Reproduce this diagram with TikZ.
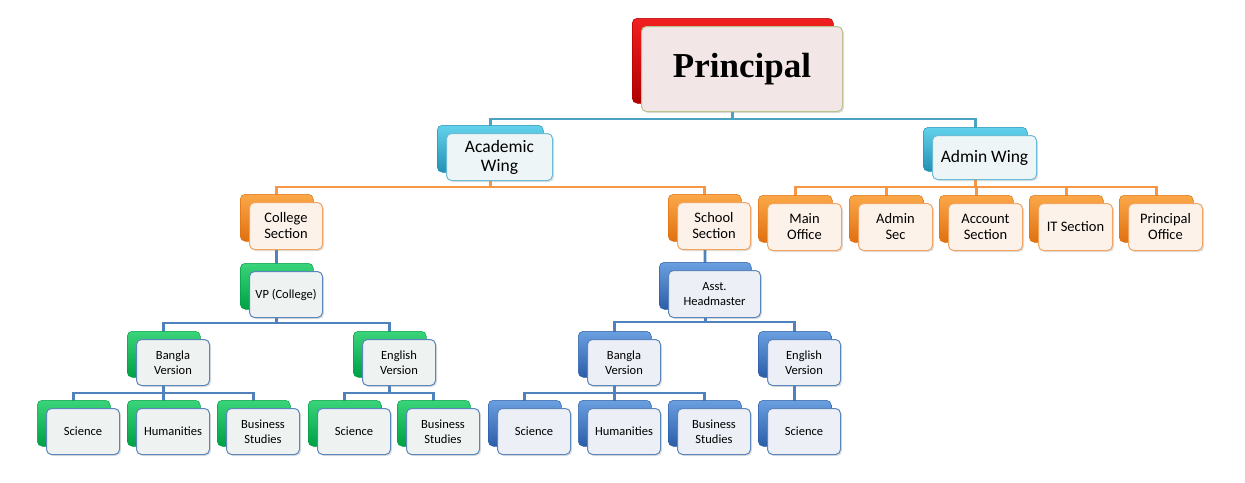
\documentclass[tikz,border=0pt]{standalone}
\usepackage{fontspec}
\setmainfont{Carlito}
\newfontfamily\prinfont{Liberation Serif}
\usetikzlibrary{backgrounds,shadows}
\definecolor{redT}{HTML}{F22020}
\definecolor{redB}{HTML}{B00000}
\definecolor{tealT}{HTML}{62D2EC}
\definecolor{tealB}{HTML}{2590B4}
\definecolor{orT}{HTML}{FBA848}
\definecolor{orB}{HTML}{E07010}
\definecolor{grT}{HTML}{3AD47A}
\definecolor{grB}{HTML}{00A044}
\definecolor{blT}{HTML}{6A9FE0}
\definecolor{blB}{HTML}{2C5EA8}
\definecolor{fRfill}{HTML}{F3E6E6}
\definecolor{fRdraw}{HTML}{B8C48E}
\definecolor{fTfill}{HTML}{EEF5F7}
\definecolor{fTdraw}{HTML}{6BBCD6}
\definecolor{fOfill}{HTML}{FCF2EA}
\definecolor{fOdraw}{HTML}{F2A460}
\definecolor{fGfill}{HTML}{EEF3F1}
\definecolor{fGdraw}{HTML}{5B86BC}
\definecolor{fBfill}{HTML}{ECF0F6}
\definecolor{fBdraw}{HTML}{5B86BC}
\definecolor{lineT}{HTML}{4BA3C3}
\definecolor{lineO}{HTML}{F79646}
\definecolor{lineB}{HTML}{4F81BD}
\tikzset{
  backbase/.style={rounded corners=5pt, inner sep=0pt, line width=0.5pt},
  backR/.style={backbase, top color=redT, bottom color=redB, draw=redB},
  backT/.style={backbase, top color=tealT, bottom color=tealB, draw=tealB},
  backO/.style={backbase, top color=orT, bottom color=orB, draw=orB},
  backG/.style={backbase, top color=grT, bottom color=grB, draw=grB},
  backB/.style={backbase, top color=blT, bottom color=blB, draw=blB},
  frontbase/.style={rounded corners=5pt, inner sep=0pt, line width=1pt, align=center,
     drop shadow={shadow xshift=1.5pt, shadow yshift=-1.5pt, opacity=0.25}},
  frontR/.style={frontbase, fill=fRfill, draw=fRdraw, font=\prinfont\bfseries\fontsize{35}{40}\selectfont},
  frontT/.style={frontbase, fill=fTfill, draw=fTdraw, font=\fontsize{17.5}{19}\selectfont},
  frontO/.style={frontbase, fill=fOfill, draw=fOdraw, font=\fontsize{14.5}{16}\selectfont},
  frontG/.style={frontbase, fill=fGfill, draw=fGdraw, font=\fontsize{12.5}{14.5}\selectfont},
  frontB/.style={frontbase, fill=fBfill, draw=fBdraw, font=\fontsize{12.5}{14.5}\selectfont},
  connT/.style={draw=lineT, line width=2.8pt},
  connO/.style={draw=lineO, line width=2.8pt},
  connB/.style={draw=lineB, line width=2.8pt},
}
% name, x, y, w, h, level, text
\newcommand{\orgcard}[7]{%
  \node[back#6, minimum width=#4pt, minimum height=#5pt, anchor=north west] (#1-b) at (#2,#3) {};
  \node[front#6, minimum width=#4pt, minimum height=#5pt, anchor=north west, xshift=9pt, yshift=-8pt] (#1) at (#2,#3) {#7};%
}
\begin{document}
\begin{tikzpicture}[x=1pt,y=-1pt]
\useasboundingbox (0,0) rectangle (1245,482);
% level 0
\orgcard{prin}{632}{18}{201}{85}{R}{Principal}
% level 1
\orgcard{acad}{437}{125}{106}{47}{T}{Academic\\Wing}
\orgcard{admin}{923}{127}{104}{44}{T}{Admin Wing}
% level 2
\orgcard{college}{240}{194}{73}{47}{O}{College\\Section}
\orgcard{school}{668}{194}{73}{47}{O}{School\\Section}
\orgcard{mainoff}{758}{195}{74}{47}{O}{Main\\Office}
\orgcard{adminsec}{849}{195}{74}{47}{O}{Admin\\Sec}
\orgcard{account}{939}{195}{74}{47}{O}{Account\\Section}
\orgcard{itsec}{1029}{195}{74}{47}{O}{IT Section}
\orgcard{prinoff}{1119}{195}{74}{47}{O}{Principal\\Office}
% level 3
\orgcard{vp}{240}{263}{73}{46}{G}{VP (College)}
\orgcard{asst}{659}{262}{92}{47}{B}{Asst.\\Headmaster}
% level 4
\orgcard{cbangla}{127}{331}{73}{46}{G}{Bangla\\Version}
\orgcard{cenglish}{353}{331}{73}{46}{G}{English\\Version}
\orgcard{sbangla}{578}{331}{73}{46}{B}{Bangla\\Version}
\orgcard{senglish}{758}{331}{73}{46}{B}{English\\Version}
% level 5
\orgcard{cbsci}{37}{400}{73}{46}{G}{Science}
\orgcard{cbhum}{127}{400}{73}{46}{G}{Humanities}
\orgcard{cbbus}{217}{400}{73}{46}{G}{Business\\Studies}
\orgcard{cesci}{308}{400}{73}{46}{G}{Science}
\orgcard{cebus}{397}{400}{73}{46}{G}{Business\\Studies}
\orgcard{sbsci}{488}{400}{73}{46}{B}{Science}
\orgcard{sbhum}{578}{400}{73}{46}{B}{Humanities}
\orgcard{sbbus}{668}{400}{73}{46}{B}{Business\\Studies}
\orgcard{sesci}{758}{400}{73}{46}{B}{Science}
% bar levels
\coordinate (barP) at (0,119);
\coordinate (barW) at (0,187);
\coordinate (barVP) at (0,323);
\coordinate (barAH) at (0,322);
\coordinate (barV) at (0,393);
\begin{pgfonlayer}{background}
  \draw[connT] (prin-b.center) -- (prin-b.center |- barP);
  \foreach \c in {acad,admin} \draw[connT] (prin-b.center |- barP) -| (\c-b.center);
  \draw[connO] (acad-b.center) -- (acad-b.center |- barW);
  \foreach \c in {college,school} \draw[connO] (acad-b.center |- barW) -| (\c-b.center);
  \draw[connO] (admin-b.center) -- (admin-b.center |- barW);
  \foreach \c in {mainoff,adminsec,account,itsec,prinoff} \draw[connO] (admin-b.center |- barW) -| (\c-b.center);
  \draw[connB] (college-b.center) -- (vp-b.center);
  \draw[connB] (school-b.center) -- (asst-b.center);
  \draw[connB] (vp-b.center) -- (vp-b.center |- barVP);
  \foreach \c in {cbangla,cenglish} \draw[connB] (vp-b.center |- barVP) -| (\c-b.center);
  \draw[connB] (asst-b.center) -- (asst-b.center |- barAH);
  \foreach \c in {sbangla,senglish} \draw[connB] (asst-b.center |- barAH) -| (\c-b.center);
  \draw[connB] (cbangla-b.center) -- (cbangla-b.center |- barV);
  \foreach \c in {cbsci,cbhum,cbbus} \draw[connB] (cbangla-b.center |- barV) -| (\c-b.center);
  \draw[connB] (cenglish-b.center) -- (cenglish-b.center |- barV);
  \foreach \c in {cesci,cebus} \draw[connB] (cenglish-b.center |- barV) -| (\c-b.center);
  \draw[connB] (sbangla-b.center) -- (sbangla-b.center |- barV);
  \foreach \c in {sbsci,sbhum,sbbus} \draw[connB] (sbangla-b.center |- barV) -| (\c-b.center);
  \draw[connB] (senglish-b.center) -- (sesci-b.center);
\end{pgfonlayer}
\end{tikzpicture}
\end{document}
